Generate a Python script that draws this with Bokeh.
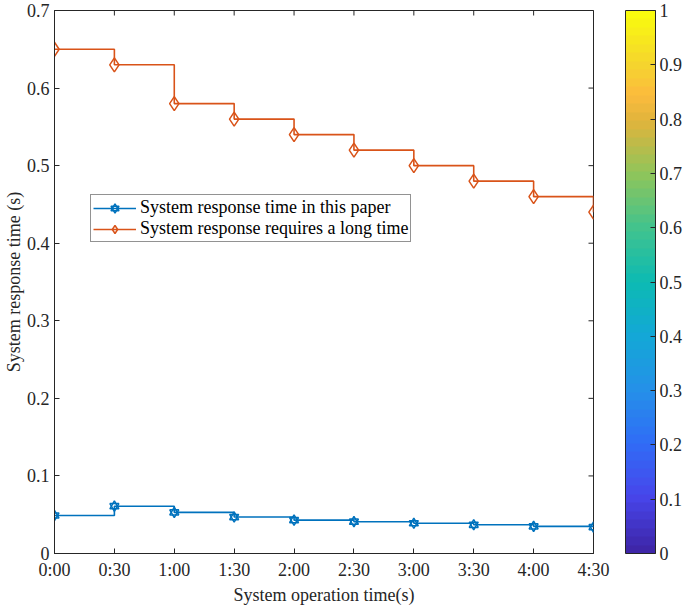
import numpy as np
from bokeh.plotting import figure
from bokeh.models import (FixedTicker, ColorBar, LinearColorMapper,
                          Legend, LegendItem, Range1d, ColumnDataSource)
from bokeh.embed import file_html
from bokeh.resources import INLINE

# ---- data ----
time_labels = ["0:00", "0:30", "1:00", "1:30", "2:00", "2:30", "3:00", "3:30", "4:00", "4:30"]
x_pos = [0, 1, 2, 3, 4, 5, 6, 7, 8, 9]
this_paper = [0.049, 0.061, 0.053, 0.047, 0.043, 0.041, 0.039, 0.037, 0.035, 0.034]
long_time = [0.65, 0.63, 0.58, 0.56, 0.54, 0.52, 0.50, 0.48, 0.46, 0.44]
y_ticks = [0, 0.1, 0.2, 0.3, 0.4, 0.5, 0.6, 0.7]
y_tick_labels = ["0", "0.1", "0.2", "0.3", "0.4", "0.5", "0.6", "0.7"]
cbar_ticks = [0, 0.1, 0.2, 0.3, 0.4, 0.5, 0.6, 0.7, 0.8, 0.9, 1.0]
cbar_tick_labels = ["0", "0.1", "0.2", "0.3", "0.4", "0.5", "0.6", "0.7", "0.8", "0.9", "1"]
series_names = ["System response time in this paper", "System response requires a long time"]

# ---- style ----
FONT = "Liberation Serif"
FS = "18px"
AX = "#262626"
BLUE = "#0072BD"
ORANGE = "#D95319"

# parula-like palette (style)
anchors = [(0.0, "#3E26A8"), (0.1, "#4746EB"), (0.2, "#306DF6"), (0.3, "#2491E8"),
           (0.4, "#13A8D6"), (0.5, "#0CBAB3"), (0.6, "#41C38E"), (0.7, "#8DC55B"),
           (0.8, "#E0B43C"), (0.85, "#FCBB3D"), (0.9, "#F5D230"), (1.0, "#F9FB0E")]
def _rgb(h):
    return [int(h[i:i + 2], 16) for i in (1, 3, 5)]
a_pos = np.array([a[0] for a in anchors])
a_rgb = np.array([_rgb(a[1]) for a in anchors], dtype=float)
palette = []
for t in np.linspace(0, 1, 64):
    c = [int(round(np.interp(t, a_pos, a_rgb[:, k]))) for k in range(3)]
    palette.append("#%02x%02x%02x" % tuple(c))

p = figure(width=685, height=607, output_backend="svg", toolbar_location=None,
           x_range=Range1d(x_pos[0], x_pos[-1]), y_range=Range1d(y_ticks[0], y_ticks[-1]),
           min_border_left=53, min_border_right=89, min_border_top=10, min_border_bottom=54)
p.background_fill_color = "white"
p.border_fill_color = "white"
p.outline_line_color = AX
p.grid.visible = False

src_a = ColumnDataSource(dict(x=x_pos, y=this_paper))
src_b = ColumnDataSource(dict(x=x_pos, y=long_time))

# inner tick marks on the top and right edges of the box (clipped to the frame)
top_src = ColumnDataSource(dict(x=x_pos, y=[y_ticks[-1]] * len(x_pos)))
right_src = ColumnDataSource(dict(x=[x_pos[-1]] * len(y_ticks), y=y_ticks))
p.scatter("x", "y", source=top_src, marker="dash", angle=np.pi / 2, size=10, line_color=AX, line_width=1)
p.scatter("x", "y", source=right_src, marker="dash", size=10, line_color=AX, line_width=1)

ra = p.step("x", "y", source=src_a, mode="after", line_color=BLUE, line_width=1.6)
ra1 = p.scatter("x", "y", source=src_a, marker="triangle", size=9, fill_color=None,
                line_color=BLUE, line_width=1.5)
ra2 = p.scatter("x", "y", source=src_a, marker="inverted_triangle", size=9, fill_color=None,
                line_color=BLUE, line_width=1.5)
rb = p.step("x", "y", source=src_b, mode="after", line_color=ORANGE, line_width=1.6)
rb1 = p.scatter("x", "y", source=src_b, marker="diamond", size=14, fill_color=None,
                line_color=ORANGE, line_width=1.5)

p.xaxis.ticker = FixedTicker(ticks=x_pos, minor_ticks=[])
p.yaxis.ticker = FixedTicker(ticks=y_ticks, minor_ticks=[])
p.xaxis.major_label_overrides = {i: lab for i, lab in zip(x_pos, time_labels)}
p.yaxis.major_label_overrides = {v: lab for v, lab in zip(y_ticks, y_tick_labels)}
p.xaxis.axis_label = "System operation time(s)"
p.yaxis.axis_label = "System response time (s)"
for ax in (p.xaxis, p.yaxis):
    ax.major_tick_in = 5
    ax.major_tick_out = 0
    ax.minor_tick_line_color = None
    ax.axis_line_color = AX
    ax.major_tick_line_color = AX
    ax.major_label_text_font = FONT
    ax.major_label_text_font_size = FS
    ax.major_label_text_color = AX
    ax.axis_label_text_font = FONT
    ax.axis_label_text_font_size = FS
    ax.axis_label_text_font_style = "normal"
    ax.axis_label_text_color = AX
p.xaxis.major_label_standoff = 6
p.xaxis.axis_label_standoff = 2
p.yaxis.major_label_standoff = 5
p.yaxis.axis_label_standoff = 0

mapper = LinearColorMapper(palette=palette, low=cbar_ticks[0], high=cbar_ticks[-1])
cb = ColorBar(color_mapper=mapper, ticker=FixedTicker(ticks=cbar_ticks, minor_ticks=[]),
              major_label_overrides={v: lab for v, lab in zip(cbar_ticks, cbar_tick_labels)},
              width=30, height=543, padding=0, margin=0, location=(32, 0),
              major_tick_in=5, major_tick_out=0, major_tick_line_color=AX,
              bar_line_color=AX, border_line_color=None, background_fill_color=None,
              label_standoff=4, major_label_text_font=FONT, major_label_text_font_size=FS,
              major_label_text_color=AX)
p.add_layout(cb, "right")

legend = Legend(items=[LegendItem(label=series_names[0], renderers=[ra, ra1, ra2]),
                       LegendItem(label=series_names[1], renderers=[rb, rb1])],
                location=(36, 311), label_text_font=FONT, label_text_font_size=FS,
                label_text_color="black", glyph_width=43, glyph_height=20,
                label_height=20, spacing=0, padding=2, margin=0,
                border_line_color=AX, border_line_width=1, background_fill_color="white",
                label_standoff=4)
p.add_layout(legend, "center")

open("out.html", "w").write(file_html(p, INLINE))
